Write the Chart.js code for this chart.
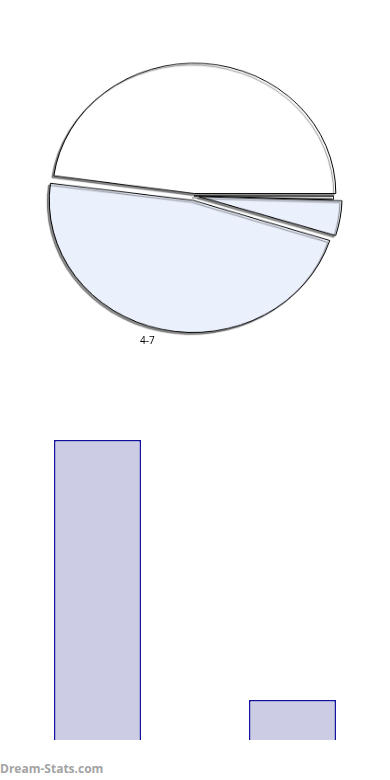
<!DOCTYPE html>
<html>
<head>
<meta charset="utf-8">
<script src="https://cdn.jsdelivr.net/npm/chart.js@4.4.1/dist/chart.umd.min.js"></script>
<style>
  html, body { margin: 0; padding: 0; background: #fff; }
  body { width: 390px; height: 780px; position: relative; overflow: hidden; }
  #pieBox { position: absolute; left: 42px; top: 56px; width: 304px; height: 304px;
            transform: scaleY(0.92); transform-origin: 50% 0; }
  #barBox { position: absolute; left: 0; top: 380px; width: 390px; height: 360px; }
  #pieLabel { position: absolute; left: 140px; top: 333px; font: 10px "Open Sans", sans-serif; color: #000; }
  #brand { position: absolute; left: 0; top: 760px; font: bold 12px "Open Sans", sans-serif; color: #a3a3a3; }
</style>
</head>
<body>
<div id="pieBox"><canvas id="pieChart"></canvas></div>
<div id="pieLabel">4-7</div>
<div id="barBox"><canvas id="barChart"></canvas></div>
<div id="brand">Dream-Stats.com</div>
<script>
const pieLabels = ["0-3", "x", "8+", "4-7"];
const pieValues = [47.9, 0.4, 4.4, 47.3];
const pieColors = ["#ffffff", "#ffffff", "#eaf0fc", "#eaf0fc"];
// chart.js draws arcs pushed out by offset/4
const pieOffsets = [10, 0, 20, 20];

const barLabels = ["4-7", "8+"];
const barValues = [15, 2];

// thin gray shadow under the slices
const shadowPlugin = {
    id: 'pieShadow',
    beforeDatasetsDraw(chart) {
        const ctx = chart.ctx;
        ctx.save();
        ctx.shadowColor = 'rgba(0,0,0,0.45)';
        ctx.shadowOffsetX = -2;
        ctx.shadowOffsetY = 2;
        ctx.shadowBlur = 1;
    },
    afterDatasetsDraw(chart) {
        chart.ctx.restore();
    }
};

new Chart(document.getElementById('pieChart'), {
    type: 'pie',
    data: {
        labels: pieLabels,
        datasets: [{
            data: pieValues,
            backgroundColor: pieColors,
            borderColor: '#000',
            borderWidth: 1,
            offset: pieOffsets
        }]
    },
    options: {
        responsive: true,
        maintainAspectRatio: false,
        animation: false,
        rotation: 277.7,
        layout: { padding: 2 },
        plugins: {
            legend: { display: false },
            tooltip: { enabled: false }
        }
    },
    plugins: [shadowPlugin]
});

new Chart(document.getElementById('barChart'), {
    type: 'bar',
    data: {
        labels: barLabels,
        datasets: [{
            data: barValues,
            backgroundColor: '#ccccE5',
            borderColor: '#12129c',
            borderWidth: 1.5,
            categoryPercentage: 1,
            barPercentage: 0.446
        }]
    },
    options: {
        responsive: true,
        maintainAspectRatio: false,
        animation: false,
        layout: { padding: 0 },
        scales: {
            x: { display: false },
            y: { display: false, min: 0, max: 18 }
        },
        plugins: {
            legend: { display: false },
            tooltip: { enabled: false }
        }
    }
});
</script>
</body>
</html>
